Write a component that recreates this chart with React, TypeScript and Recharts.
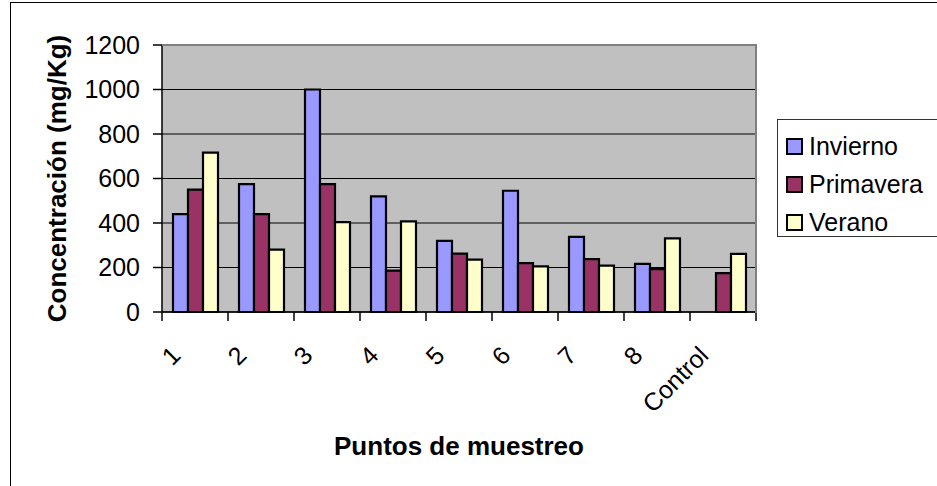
import React from "react";
import { BarChart, Bar, CartesianGrid, XAxis, YAxis } from "recharts";

const categories = ["1", "2", "3", "4", "5", "6", "7", "8", "Control"];
const invierno = [440, 575, 1000, 520, 320, 545, 338, 216, null];
const primavera = [550, 440, 575, 186, 262, 220, 238, 193, 175];
const verano = [716, 280, 404, 407, 235, 205, 208, 331, 261];
const yTicks = [0, 200, 400, 600, 800, 1000, 1200];

const series = [
  { key: "invierno", name: "Invierno", color: "#9999FF" },
  { key: "primavera", name: "Primavera", color: "#993366" },
  { key: "verano", name: "Verano", color: "#FFFFCC" },
];

const data = categories.map((name, i) => ({
  name,
  invierno: invierno[i],
  primavera: primavera[i],
  verano: verano[i],
}));

const FONT = "'Liberation Sans', Arial, sans-serif";

const W = 937;
const H = 486;
const PLOT = { left: 162, top: 45, right: 756, bottom: 312 };
const Y_AXIS_W = 60;
const X_AXIS_H = 30;

// category label (rotated) plus the tick marks that sit between categories
function XTick(props: any) {
  const { x, y, payload, index, width } = props;
  const half = width / categories.length / 2;
  const ax = x - 13;
  const ay = y + 45;
  return (
    <g>
      {index === 0 && <line x1={x - half} x2={x - half} y1={y} y2={y + 9} stroke="#000" strokeWidth={1.5} />}
      <line x1={x + half} x2={x + half} y1={y} y2={y + 9} stroke="#000" strokeWidth={1.5} />
      <text
        x={ax}
        y={ay}
        transform={`rotate(-45, ${ax}, ${ay})`}
        textAnchor="end"
        fontFamily={FONT}
        fontSize={25}
        fill="#000"
      >
        {payload.value}
      </text>
    </g>
  );
}

function YTitle(props: any) {
  const { viewBox } = props;
  const cx = viewBox.x + viewBox.width - 105;
  const cy = viewBox.y + viewBox.height / 2;
  return (
    <text
      x={cx}
      y={cy}
      transform={`rotate(-90, ${cx}, ${cy})`}
      textAnchor="middle"
      dominantBaseline="central"
      fontFamily={FONT}
      fontSize={26}
      fontWeight="bold"
      fill="#000"
    >
      Concentración (mg/Kg)
    </text>
  );
}

function XTitle(props: any) {
  const { viewBox } = props;
  return (
    <text
      x={viewBox.x + viewBox.width / 2}
      y={viewBox.y + 143}
      textAnchor="middle"
      fontFamily={FONT}
      fontSize={26}
      fontWeight="bold"
      fill="#000"
    >
      Puntos de muestreo
    </text>
  );
}

export default function App() {
  return (
    <div
      style={{
        position: "absolute",
        left: 0,
        top: 0,
        width: W,
        height: H,
        overflow: "hidden",
        background: "#fff",
        fontFamily: FONT,
      }}
    >
      <BarChart
        width={W}
        height={H}
        data={data}
        barGap={0}
        barSize={15}
        margin={{
          top: PLOT.top,
          left: PLOT.left - Y_AXIS_W,
          right: W - PLOT.right,
          bottom: H - PLOT.bottom - X_AXIS_H,
        }}
      >
        <CartesianGrid vertical={false} stroke="#000" strokeWidth={1.2} fill="#C0C0C0" fillOpacity={1} />
        <XAxis
          dataKey="name"
          height={X_AXIS_H}
          tickLine={false}
          tickSize={0}
          tickMargin={0}
          axisLine={{ stroke: "#000", strokeWidth: 1.5 }}
          tick={<XTick />}
          interval={0}
          label={<XTitle />}
        />
        <YAxis
          width={Y_AXIS_W}
          domain={[0, 1200]}
          ticks={yTicks}
          interval={0}
          tickSize={9}
          tickMargin={13}
          axisLine={{ stroke: "#000", strokeWidth: 1.5 }}
          tickLine={{ stroke: "#000", strokeWidth: 1.5 }}
          tick={{ fill: "#000", fontSize: 25, fontFamily: FONT }}
          label={<YTitle />}
        />
        {series.map((s) => (
          <Bar
            key={s.key}
            dataKey={s.key}
            name={s.name}
            fill={s.color}
            stroke="#000"
            strokeWidth={2.2}
            isAnimationActive={false}
          />
        ))}
      </BarChart>

      {/* plot frame (top / right), grey like the original */}
      <div
        style={{
          position: "absolute",
          left: PLOT.left,
          top: PLOT.top - 1,
          width: PLOT.right - PLOT.left - 1,
          height: PLOT.bottom - PLOT.top,
          borderTop: "2px solid #808080",
          borderRight: "2px solid #808080",
          pointerEvents: "none",
        }}
      />

      {/* outer chart border */}
      <div
        style={{
          position: "absolute",
          left: 10,
          top: 2,
          width: W,
          height: H,
          borderLeft: "1.5px solid #000",
          borderTop: "1.5px solid #000",
          pointerEvents: "none",
        }}
      />

      {/* legend */}
      <div
        style={{
          position: "absolute",
          left: 777,
          top: 119,
          width: 170,
          height: 118,
          border: "1px solid #333",
          boxSizing: "border-box",
          paddingTop: 7,
        }}
      >
        {series.map((s) => (
          <div
            key={s.key}
            style={{ display: "flex", alignItems: "center", height: 38, fontSize: 25, color: "#000" }}
          >
            <span
              style={{
                display: "inline-block",
                width: 13,
                height: 13,
                marginLeft: 8,
                marginRight: 6,
                background: s.color,
                border: "2px solid #000",
              }}
            />
            <span>{s.name}</span>
          </div>
        ))}
      </div>
    </div>
  );
}
